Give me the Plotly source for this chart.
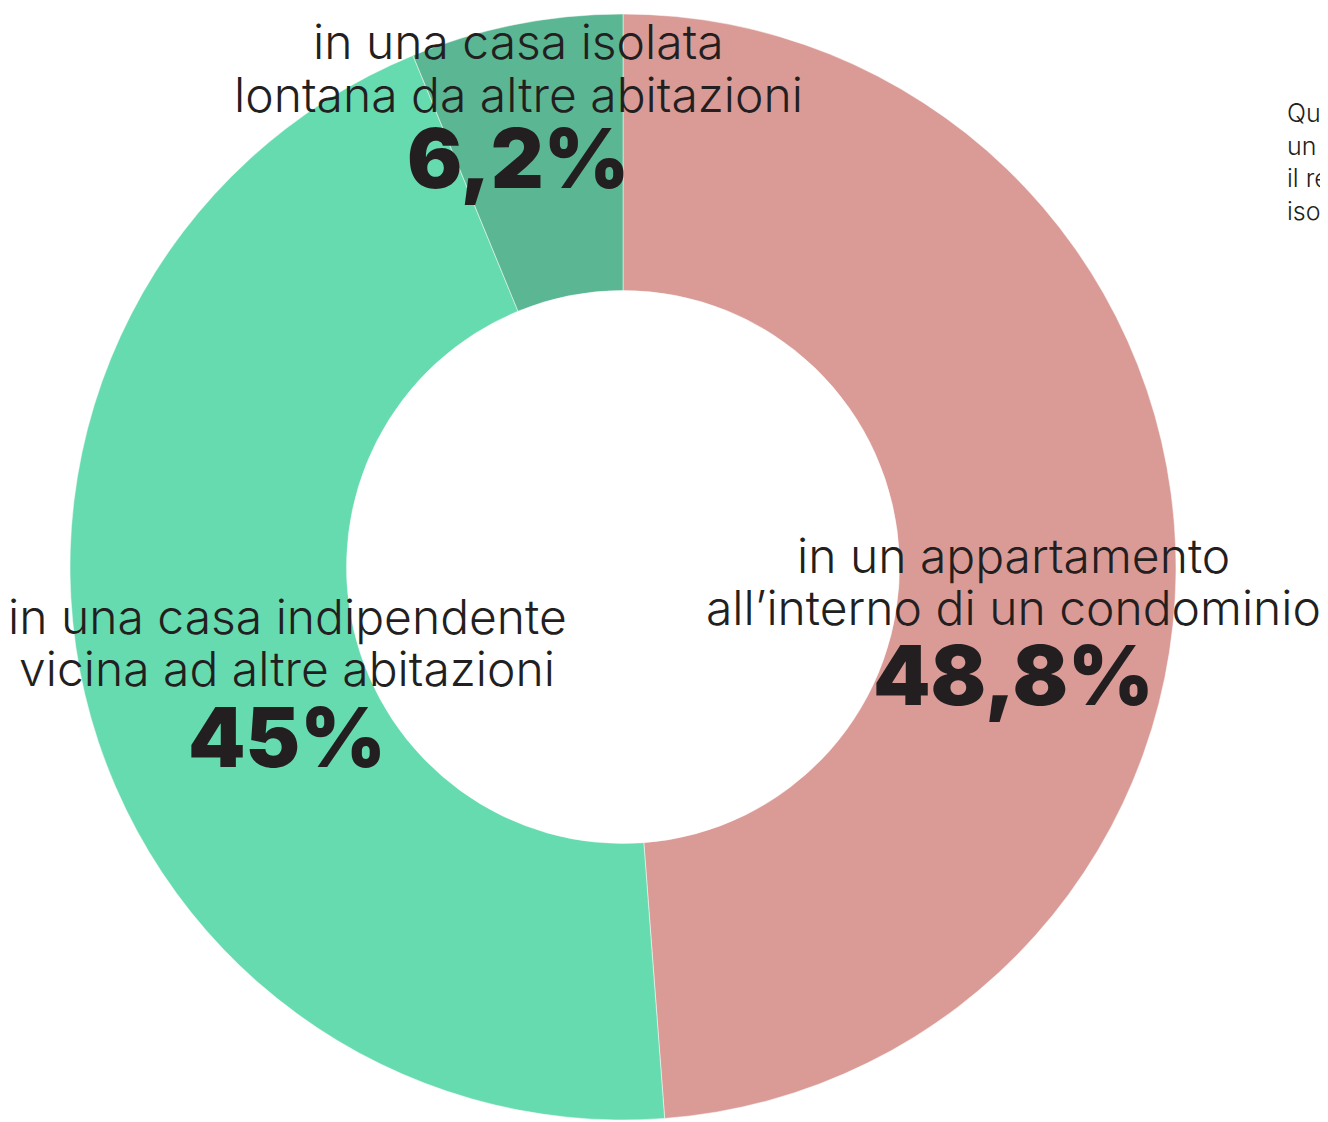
import plotly.graph_objects as go

W, H = 1328, 1122

categories = ["in un appartamento<br>all’interno di un condominio",
              "in una casa indipendente<br>vicina ad altre abitazioni",
              "in una casa isolata<br>lontana da altre abitazioni"]
values = [48.8, 45.0, 6.2]
value_labels = ["48,8%", "45%", "6,2%"]
colors = ["#DA9B97", "#67DBB0", "#5BB793"]

# label placement in pixels: center x, center y of each label line, center y of percent
label_pos = [(1005, (547, 599), 667), (279, (608, 660), 729), (510, (34, 86), 151)]

cx, cy, R = 615, 559, 553

fig = go.Figure(go.Pie(
    labels=categories, values=values, sort=False, direction="clockwise",
    rotation=0, hole=0.5, textinfo="none", hoverinfo="label+percent",
    marker=dict(colors=colors, line=dict(color="rgba(255,255,255,0.6)", width=0.8)),
    domain=dict(x=[(cx - R) / W, (cx + R) / W], y=[1 - (cy + R) / H, 1 - (cy - R) / H]),
    showlegend=False,
))

anns = []
for cat, vl, (px, lys, py) in zip(categories, value_labels, label_pos):
    for line, ly in zip(cat.split("<br>"), lys):
        anns.append(dict(text=line, x=px / W, y=1 - ly / H, xref="paper", yref="paper",
                         showarrow=False, xanchor="center", yanchor="middle",
                         font=dict(family="Inter", size=48, color="#231F20", weight=300)))
    anns.append(dict(text=vl, x=px / W, y=1 - py / H, xref="paper", yref="paper",
                     showarrow=False, xanchor="center", yanchor="middle",
                     font=dict(family="Inter", size=82, color="#231F20", weight=900)))

anns.append(dict(text="Quasi la metà vive in<br>un appartamento,<br>il resto in case<br>isolate o indipendenti",
                 x=1277 / W, y=1 - 88 / H, xref="paper", yref="paper", showarrow=False,
                 xanchor="left", yanchor="top", align="left",
                 font=dict(family="Inter", size=25, color="#231F20", weight=300)))

fig.update_layout(width=W, height=H, margin=dict(l=0, r=0, t=0, b=0),
                  paper_bgcolor="white", plot_bgcolor="white", annotations=anns)

fig.write_html("out.html")
